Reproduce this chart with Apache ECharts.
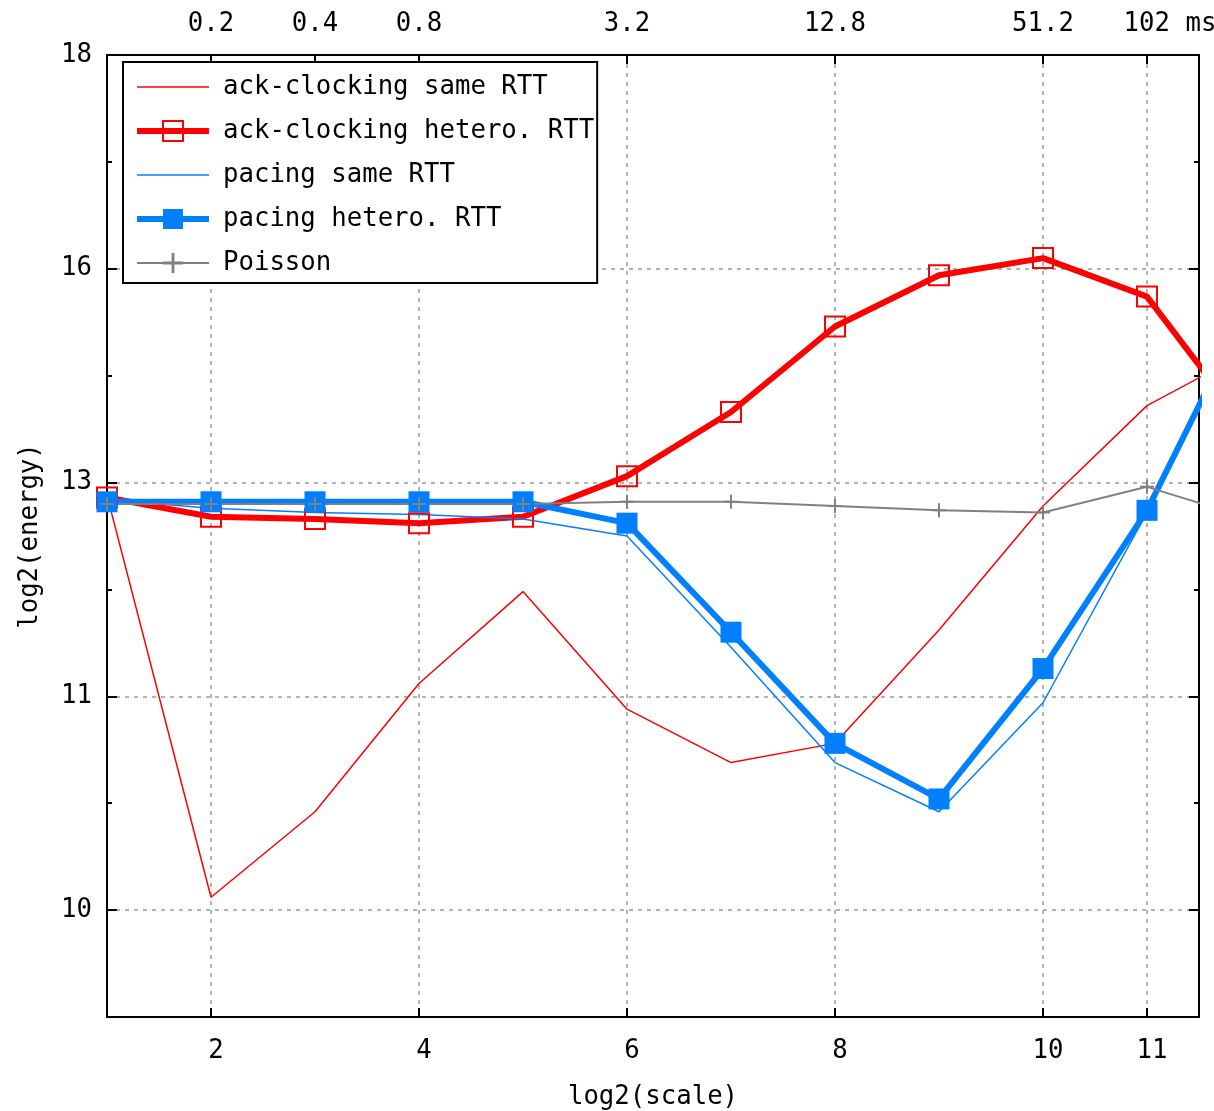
<!DOCTYPE html>
<html>
<head>
<meta charset="utf-8">
<title>log2(energy) vs log2(scale)</title>
<script src="https://cdn.jsdelivr.net/npm/echarts@6/dist/echarts.min.js"></script>
<style>
  html, body { margin: 0; padding: 0; background: #fff; }
  #chart { width: 1214px; height: 1111px; }
</style>
</head>
<body>
<div id="chart"></div>
<script>
// Time-scale exponent (log2 of the aggregation scale); 12 lies just past the visible range.
const scaleLog2 = [1, 2, 3, 4, 5, 6, 7, 8, 9, 10, 11, 12];

// Energy values, expressed in steps of the labelled energy axis (one step per tick label).
const ackSame      = [1.94, 0.06, 0.46, 1.06, 1.49, 0.94, 0.69, 0.78, 1.31, 1.89, 2.36, 2.62];
const ackHetero    = [1.93, 1.84, 1.83, 1.81, 1.84, 2.03, 2.33, 2.73, 2.97, 3.05, 2.87, 2.23];
const pacingSame   = [1.92, 1.88, 1.86, 1.85, 1.83, 1.75, 1.23, 0.69, 0.46, 0.97, 1.86, 2.85];
const pacingHetero = [1.91, 1.91, 1.91, 1.91, 1.91, 1.81, 1.30, 0.78, 0.52, 1.13, 1.87, 2.85];
const poisson      = [1.90, 1.90, 1.90, 1.90, 1.90, 1.91, 1.91, 1.89, 1.87, 1.86, 1.98, 1.83];

// Axis ticks and their labels
const energyTickPos    = [0, 1, 2, 3, 4];
const energyTickLabels = ['10', '11', '13', '16', '18'];
const energyMinorPos   = [0.5, 1.5, 2.5, 3.5];
const scaleTickPos     = [2, 4, 6, 8, 10, 11];
const timeTickPos      = [2, 3, 4, 6, 8, 10, 11];
const timeTickLabels   = ['0.2', '0.4', '0.8', '3.2', '12.8', '51.2', '102 ms'];

const FONT = '"DejaVu Sans Mono", "Liberation Mono", monospace';
const TEXT = { fontFamily: FONT, fontSize: 25.7, color: '#000' };
const RED = '#ff0000';
const BLUE = '#0080ff';
const GREY = '#808080';
const THIN = 1.5;
const THICK = 6;
const PLUS = 'path://M0,6H14V8H0Z M6,0H8V14H6Z';
const LINE_ICON = 'path://M0,0H48V1H0Z';

const pairs = ys => scaleLog2.map((x, i) => [x, ys[i]]);
const lookup = (positions, labels) => v => {
  const i = positions.indexOf(v);
  return i < 0 ? '' : labels[i];
};

const frameLine = { show: true, onZero: false, lineStyle: { color: '#000', width: 2 } };
const gridLine = { show: true, lineStyle: { color: '#9a9a9a', width: 1.5, type: [4, 5] } };
const ticks = (values, length) => ({
  show: true, inside: true, length: length, customValues: values,
  lineStyle: { color: '#000', width: 2 }
});

function energyAxis(position, values, length, extra) {
  return Object.assign({
    type: 'value', position: position, min: -0.5, max: 4,
    axisLine: Object.assign({}, frameLine, { show: length > 6 }),
    axisTick: ticks(values, length),
    axisLabel: { show: false },
    splitLine: { show: false }
  }, extra || {});
}

const chart = echarts.init(document.getElementById('chart'), null, { renderer: 'canvas' });

chart.setOption({
  animation: false,
  backgroundColor: '#fff',
  grid: { left: 107, right: 15, top: 55, bottom: 94, show: false, outerBoundsMode: 'none' },
  legend: {
    orient: 'vertical', left: 123, top: 62,
    padding: [12, 3, 7, 11],
    backgroundColor: '#fff', borderColor: '#000', borderWidth: 2, borderRadius: 0,
    itemWidth: 72, itemHeight: 25, itemGap: 18,
    selectedMode: false,
    textStyle: Object.assign({}, TEXT, { padding: [0, 0, 0, 9] }),
    data: [
      { name: 'ack-clocking same RTT', icon: LINE_ICON, itemStyle: { borderWidth: 0 } },
      { name: 'ack-clocking hetero. RTT', lineStyle: { width: THICK } },
      { name: 'pacing same RTT', icon: LINE_ICON, itemStyle: { borderWidth: 0 } },
      { name: 'pacing hetero. RTT', lineStyle: { width: THICK } },
      { name: 'Poisson', lineStyle: { width: 2 } }
    ]
  },
  xAxis: [
    {
      type: 'value', position: 'bottom', min: 1, max: 11.5,
      axisLine: frameLine,
      axisTick: ticks(scaleTickPos, 9),
      axisLabel: Object.assign({
        customValues: scaleTickPos, formatter: v => String(v), margin: 21, padding: [0, 0, 0, 10]
      }, TEXT),
      splitLine: gridLine,
      name: 'log2(scale)', nameLocation: 'middle', nameGap: 67, nameTextStyle: TEXT
    },
    {
      type: 'value', position: 'top', min: 1, max: 11.5,
      axisLine: frameLine,
      axisTick: ticks(timeTickPos, 9),
      axisLabel: Object.assign({
        customValues: timeTickPos, margin: 18,
        formatter: v => {
          const i = timeTickPos.indexOf(v);
          if (i < 0) return '';
          return i === timeTickLabels.length - 1 ? '{unit|' + timeTickLabels[i] + '}' : timeTickLabels[i];
        },
        rich: { unit: Object.assign({ padding: [0, 0, 0, 46] }, TEXT) }
      }, TEXT),
      splitLine: { show: false }
    }
  ],
  yAxis: [
    energyAxis('left', energyTickPos, 10, {
      axisLabel: Object.assign({
        show: true, customValues: energyTickPos,
        formatter: lookup(energyTickPos, energyTickLabels), margin: 15
      }, TEXT),
      splitLine: gridLine,
      name: 'log2(energy)', nameLocation: 'middle', nameGap: 64, nameTextStyle: TEXT
    }),
    energyAxis('right', energyTickPos, 10),
    energyAxis('left', energyMinorPos, 5),
    energyAxis('right', energyMinorPos, 5)
  ],
  series: [
    {
      name: 'ack-clocking same RTT', type: 'line', data: pairs(ackSame),
      symbol: 'none', clip: true, silent: true, emphasis: { disabled: true },
      lineStyle: { color: RED, width: THIN }, itemStyle: { color: RED }
    },
    {
      name: 'ack-clocking hetero. RTT', type: 'line', data: pairs(ackHetero),
      symbol: 'rect', symbolSize: 20, showAllSymbol: true, clip: true, silent: true, emphasis: { disabled: true },
      lineStyle: { color: RED, width: THICK },
      itemStyle: { color: 'rgba(255,0,0,0)', borderColor: RED, borderWidth: 2 }
    },
    {
      name: 'pacing same RTT', type: 'line', data: pairs(pacingSame),
      symbol: 'none', clip: true, silent: true, emphasis: { disabled: true },
      lineStyle: { color: BLUE, width: THIN }, itemStyle: { color: BLUE }
    },
    {
      name: 'pacing hetero. RTT', type: 'line', data: pairs(pacingHetero),
      symbol: 'rect', symbolSize: 21, showAllSymbol: true, clip: true, silent: true, emphasis: { disabled: true },
      lineStyle: { color: BLUE, width: THICK }, itemStyle: { color: BLUE }
    },
    {
      name: 'Poisson', type: 'line', data: pairs(poisson),
      symbol: PLUS, symbolSize: 14, showAllSymbol: true, clip: true, silent: true, emphasis: { disabled: true },
      lineStyle: { color: GREY, width: 2 }, itemStyle: { color: GREY }
    }
  ]
});
</script>
</body>
</html>
